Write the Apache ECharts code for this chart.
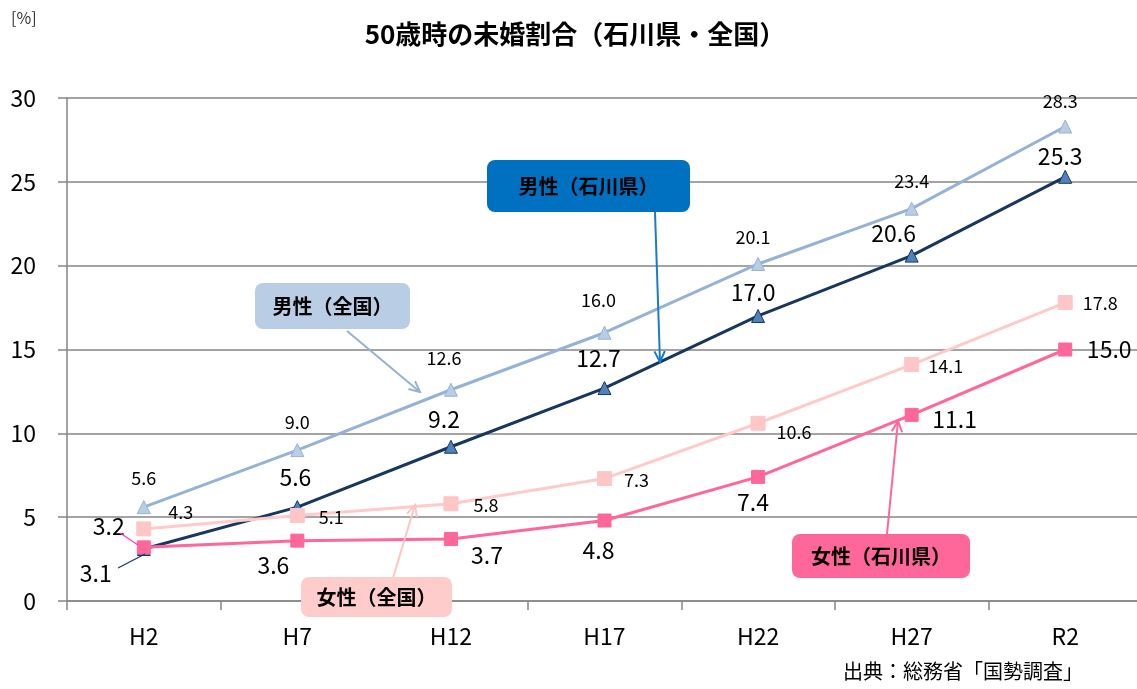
<!DOCTYPE html>
<html><head><meta charset="utf-8">
<script src="https://cdn.jsdelivr.net/npm/echarts@6/dist/echarts.min.js"></script>
<style>html,body{margin:0;padding:0;background:#fff;overflow:hidden}#c{width:1160px;height:689px}</style>
</head><body><div id="c"></div>
<script>
var categories = ['H2','H7','H12','H17','H22','H27','R2'];
var maleNational = [5.6, 9.0, 12.6, 16.0, 20.1, 23.4, 28.3];
var maleIshikawa = [3.1, 5.6, 9.2, 12.7, 17.0, 20.6, 25.3];
var femaleNational = [4.3, 5.1, 5.8, 7.3, 10.6, 14.1, 17.8];
var femaleIshikawa = [3.2, 3.6, 3.7, 4.8, 7.4, 11.1, 15.0];
var yTicks = [0, 5, 10, 15, 20, 25, 30];

// label layout (offsets from point centre)
var offMN = [[0,-29],[0,-28],[-7,-32],[-6,-33],[-5,-27],[0,-28],[-5,-25]];
var offMI = [[-48,24],[-2,-30],[-7,-27],[-6,-30],[-5,-24],[-18,-22],[-5,-21]];
var offFN = [[37,-17],[34,2],[35,1],[32,2],[36,9],[34,2],[35,1]];
var offFI = [[-35,-21],[-24,25],[36,16],[-6,30],[-5,25],[43,4],[44,0]];

var FONT = '"Noto Sans CJK JP","Noto Sans",sans-serif';

function build(vals, offs, fs) {
  return vals.map(function (v, i) {
    return { value: v, label: { offset: offs[i], fontSize: fs } };
  });
}

var chart = echarts.init(document.getElementById('c'));

function arrow(x1, y1, x2, y2, color, w) {
  var ang = Math.atan2(y2 - y1, x2 - x1), L = 12, a = 0.45;
  var p1 = [x2 - L * Math.cos(ang - a), y2 - L * Math.sin(ang - a)];
  var p2 = [x2 - L * Math.cos(ang + a), y2 - L * Math.sin(ang + a)];
  return [
    { type: 'line', z: 100, shape: { x1: x1, y1: y1, x2: x2, y2: y2 }, style: { stroke: color, lineWidth: w } },
    { type: 'polyline', z: 100, shape: { points: [p1, [x2, y2], p2] }, style: { stroke: color, lineWidth: w, fill: null } }
  ];
}
function box(x, y, w, h, fill, txt) {
  return [
    { type: 'rect', z: 101, shape: { x: x, y: y, width: w, height: h, r: 8 }, style: { fill: fill } },
    { type: 'text', z: 102, x: x + w / 2, y: y + h / 2, style: { text: txt, fill: '#000', font: 'bold 20px ' + FONT, textAlign: 'center', textVerticalAlign: 'middle' } }
  ];
}

var graphics = [].concat(
  arrow(347, 331, 420, 392, '#95b3d7', 2),
  arrow(655, 212, 660, 362, '#1a7bc9', 2),
  arrow(887, 534, 898, 421, '#ff6699', 2),
  arrow(393, 578, 415, 505, '#ffc4c4', 2),
  [
    { type: 'line', z: 100, shape: { x1: 120, y1: 533, x2: 138, y2: 545 }, style: { stroke: '#ff33cc', lineWidth: 1.2 } },
    { type: 'line', z: 100, shape: { x1: 118, y1: 568, x2: 145, y2: 554 }, style: { stroke: '#17375e', lineWidth: 1.2 } }
  ],
  box(255, 283, 155, 46, '#b9cde5', '男性（全国）'),
  box(487, 160, 203, 52, '#0070c0', '男性（石川県）'),
  box(792, 534, 178, 44, '#ff6699', '女性（石川県）'),
  box(301, 577, 151, 40, '#ffcccc', '女性（全国）'),
  [
    { type: 'text', left: 11, top: 10, style: { text: '[%]', fill: '#333', font: '16px ' + FONT } },
    { type: 'text', left: 843, top: 661, style: { text: '出典：総務省「国勢調査」', fill: '#000', font: '20px ' + FONT } }
  ]
);

chart.setOption({
  animation: false,
  textStyle: { fontFamily: FONT },
  title: {
    text: '50歳時の未婚割合（石川県・全国）', left: 570, top: 16, textAlign: 'center',
    textStyle: { fontSize: 26, fontWeight: 'bold', color: '#000', fontFamily: FONT }
  },
  grid: { left: 67, top: 98, width: 1075, height: 503 },
  xAxis: {
    type: 'category', data: categories, boundaryGap: true,
    axisLine: { lineStyle: { color: '#868686', width: 1.5 } },
    axisTick: { show: true, length: 9, lineStyle: { color: '#868686', width: 1.5 } },
    axisLabel: { fontSize: 23, color: '#000', margin: 24 }
  },
  yAxis: {
    type: 'value', min: yTicks[0], max: yTicks[yTicks.length - 1], interval: 5,
    axisLine: { show: true, lineStyle: { color: '#868686', width: 1.5 } },
    axisTick: { show: true, length: 9, lineStyle: { color: '#868686', width: 1.5 } },
    axisLabel: { fontSize: 23, color: '#000', margin: 31 },
    splitLine: { lineStyle: { color: '#868686', width: 1.5 } }
  },
  series: [
    {
      name: '男性（全国）', type: 'line', data: build(maleNational, offMN, 18),
      symbol: 'triangle', symbolSize: 13,
      lineStyle: { color: '#95b3d7', width: 3 },
      itemStyle: { color: '#b9cde5', borderColor: '#95b3d7', borderWidth: 1 },
      label: { show: true, position: 'inside', color: '#000', formatter: function (p) { return p.value.toFixed(1); } }
    },
    {
      name: '男性（石川県）', type: 'line', data: build(maleIshikawa, offMI, 23),
      symbol: 'triangle', symbolSize: 13,
      lineStyle: { color: '#17375e', width: 3 },
      itemStyle: { color: '#4f81bd', borderColor: '#17375e', borderWidth: 1 },
      label: { show: true, position: 'inside', color: '#000', formatter: function (p) { return p.value.toFixed(1); } }
    },
    {
      name: '女性（全国）', type: 'line', data: build(femaleNational, offFN, 18),
      symbol: 'rect', symbolSize: 14,
      lineStyle: { color: '#ffcaca', width: 3 },
      itemStyle: { color: '#ffc6c6', borderColor: '#ffc6c6' },
      label: { show: true, position: 'inside', color: '#000', formatter: function (p) { return p.value.toFixed(1); } }
    },
    {
      name: '女性（石川県）', type: 'line', data: build(femaleIshikawa, offFI, 23),
      symbol: 'rect', symbolSize: 13,
      lineStyle: { color: '#ff6699', width: 3 },
      itemStyle: { color: '#ff6699', borderColor: '#ff6699' },
      label: { show: true, position: 'inside', color: '#000', formatter: function (p) { return p.value.toFixed(1); } }
    }
  ],
  graphic: graphics
});
</script>
</body></html>
